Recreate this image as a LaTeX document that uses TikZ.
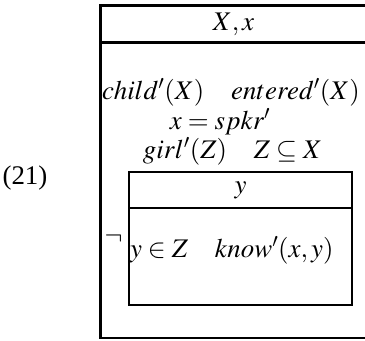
\documentclass[tikz,border=0pt]{standalone}
\usepackage{mathptmx}
\usepackage{fontspec}
\setmainfont{Liberation Serif}
\usepackage{tikz}
\usetikzlibrary{positioning}

\tikzset{
  drsbox/.style={draw, rectangle, line width=2.4bp, inner sep=0pt, outer sep=0pt},
  drscond/.style={inner sep=0pt, outer sep=0pt, font=\fontsize{27}{32}\selectfont}
}

\begin{document}
\begin{tikzpicture}[x=1bp, y=-1bp]
  \useasboundingbox (0,0) rectangle (365,341);
  % example number
  \node[drscond, anchor=base] (exnum) at (25,184) {(21)};
  % outer box
  \node[drsbox, drscond, anchor=north west, minimum width=266bp, minimum height=37bp]
    (outerhead) at (100.5,5.5) {$X,x$};
  \node[drsbox, below=0pt of outerhead, minimum width=266bp, minimum height=295.5bp] (outerbody) {};
  \node[drscond, anchor=base] (condA) at (231,99) {$child'(X)\quad entered'(X)$};
  \node[drscond, anchor=base] (condB) at (220,129) {$x = spkr'$};
  \node[drscond, anchor=base] (condC) at (232.5,158) {$girl'(Z)\quad Z\subseteq X$};
  % negated inner box
  \node[drsbox, drscond, anchor=north west, minimum width=223bp, minimum height=36bp]
    (innerhead) at (129,172) {$y$};
  \node[drsbox, below=0pt of innerhead, minimum width=223bp, minimum height=97bp] (innerbody) {};
  \node[drscond, anchor=base] (negsign) at (113.5,244) {$\neg$};
  \node[drscond, anchor=base west] (condD) at (130,257) {$y\in Z\quad know'(x,y)$};
\end{tikzpicture}
\end{document}
